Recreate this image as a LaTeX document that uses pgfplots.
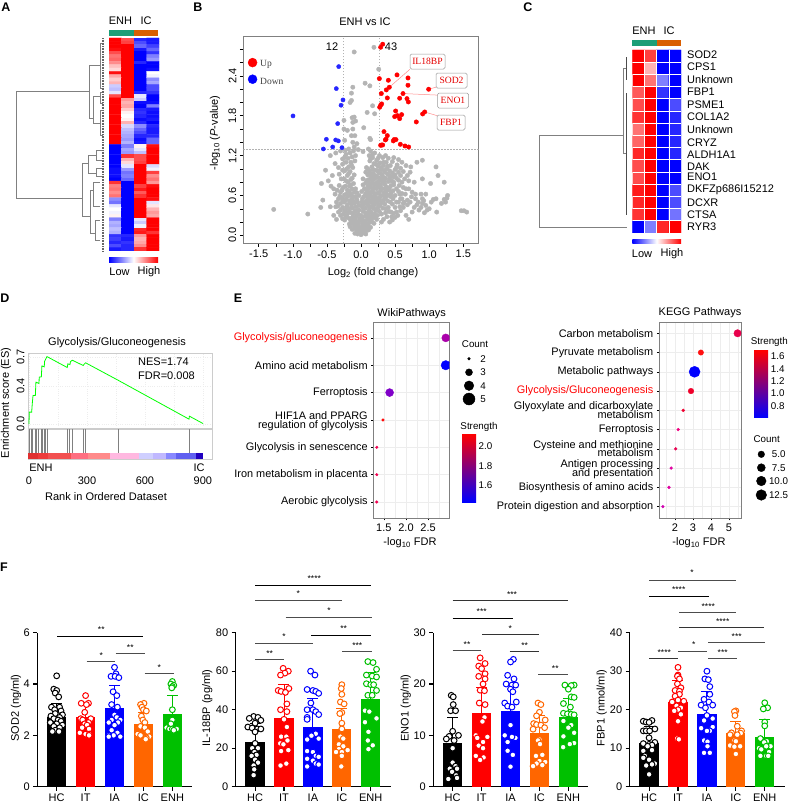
\documentclass[border=0pt]{standalone}
\usepackage{fontspec}
\setmainfont{Liberation Sans}
\newfontfamily\serifb{Liberation Serif}
\usepackage{pgfplots}
\usepackage{pgfplotstable}
\pgfplotsset{compat=1.18}
\newcommand{\fa}{\fontsize{11}{12}\selectfont}
\newcommand{\fb}{\fontsize{9.8}{11}\selectfont}
\newcommand{\tightA}{\fontsize{10.9}{9.4}\selectfont\setlength{\lineskiplimit}{-10pt}}
\newcommand{\tightB}{\fontsize{10.9}{8.5}\selectfont\setlength{\lineskiplimit}{-10pt}}
\newcommand{\nodepth}[1]{\raisebox{0pt}[\height][0pt]{#1}}
\definecolor{annG}{HTML}{1B9E77}
\definecolor{annO}{HTML}{D95F02}
\definecolor{ptgray}{HTML}{B4B4B4}
\definecolor{fgreen}{HTML}{00C000}
\definecolor{forange}{HTML}{FF6600}
\definecolor{gridc}{HTML}{EDEDED}
\definecolor{framec}{HTML}{808080}
\definecolor{lbox}{HTML}{999999}
\pgfplotsset{
  colormap={bwr}{rgb=(0,0,1) rgb=(1,1,1) rgb=(1,0,0)},
  every axis/.append style={scale only axis, /pgf/number format/assume math mode=true, tick label style={font=\fa}, label style={font=\fa}},
  heat/.style={hide axis, colormap name=bwr, point meta min=-1, point meta max=1, y dir=reverse, xmin=-0.5, xmax=3.5, enlargelimits=false},
  bubble/.style={axis line style={framec,line width=.8pt}, grid=both, grid style={gridc,line width=.6pt}, minor grid style={gridc,line width=.5pt}, tick align=outside, major tick length=2.5pt, minor tick length=0pt, tick style={black,line width=.4pt}, ytick pos=left, xtick pos=bottom, clip marker paths=true},
  barpanel/.style={axis x line=bottom, axis y line=left, axis line style={black,line width=1.1pt,-}, tick style={black,line width=1.1pt}, tick align=outside, major tick length=4pt, xmin=-.67, xmax=4.69, xtick={0,1,2,3,4}, xticklabels={HC,IT,IA,IC,ENH}, clip=false, scaled y ticks=false, width=155pt, height=154pt, ymin=0},
}
% one group of panel F: colour, position, bar, upper error, points as "offset value"
\newcommand{\grp}[5]{%
  \addplot[ybar,bar width=19.3pt,bar shift=0pt,fill=#1,draw=none] coordinates {(#2,#3)};
  \addplot[draw=none,mark=none,error bars/.cd,y dir=plus,y explicit,error bar style={#1,line width=.9pt},error mark options={#1,rotate=90,mark size=5.5pt,line width=.9pt}] coordinates {(#2,#3) +- (0,#4)};
  \addplot[only marks,mark=*,mark size=2.9pt,mark options={fill=white,draw=#1,line width=1pt}] table[row sep=crcr,header=false,x expr=\thisrowno{0}+#2,y index=1] {#5};
}
\newcommand{\brk}[7]{%
  \addplot[#4,line width=.9pt] coordinates {(#1,#3)(#2,#3)};
  \node[font=\fontsize{8.5}{8}\selectfont,inner sep=0pt] at (#5,#6+2) {#7};
}
\newcommand{\den}[1]{\addplot[gray,line width=.5pt] coordinates {#1};}
\begin{document}
\begin{tikzpicture}
\path[use as bounding box] (0,0) rectangle (789pt,804pt);

% A heatmap
\begin{axis}[heat, at={(109pt,553pt)}, width=50pt, height=213pt, ymin=-.5, ymax=63.5]
\addplot[matrix plot*, mesh/cols=4, point meta=explicit] coordinates {
(0,0)[1] (1,0)[.7] (2,0)[-.85] (3,0)[-.9]
(0,1)[1] (1,1)[.75] (2,1)[-.7] (3,1)[-.9]
(0,2)[1] (1,2)[1] (2,2)[-.6] (3,2)[-.75]
(0,3)[.95] (1,3)[1] (2,3)[-.9] (3,3)[-.6]
(0,4)[.7] (1,4)[1] (2,4)[-1] (3,4)[-.8]
(0,5)[.55] (1,5)[1] (2,5)[-1] (3,5)[-.5]
(0,6)[.6] (1,6)[1] (2,6)[-1] (3,6)[-.4]
(0,7)[.45] (1,7)[1] (2,7)[-.85] (3,7)[-1]
(0,8)[.25] (1,8)[1] (2,8)[-1] (3,8)[-1]
(0,9)[.15] (1,9)[1] (2,9)[-1] (3,9)[-.95]
(0,10)[.95] (1,10)[1] (2,10)[-1] (3,10)[0]
(0,11)[.35] (1,11)[1] (2,11)[-1] (3,11)[-.05]
(0,12)[.2] (1,12)[1] (2,12)[-1] (3,12)[-.45]
(0,13)[.3] (1,13)[1] (2,13)[-1] (3,13)[-.35]
(0,14)[-.2] (1,14)[1] (2,14)[-1] (3,14)[-.7]
(0,15)[-.25] (1,15)[1] (2,15)[-1] (3,15)[-.7]
(0,16)[-.1] (1,16)[1] (2,16)[-.85] (3,16)[-.8]
(0,17)[.7] (1,17)[1] (2,17)[-.1] (3,17)[-1]
(0,18)[1] (1,18)[.4] (2,18)[-.2] (3,18)[-1]
(0,19)[1] (1,19)[.3] (2,19)[-.95] (3,19)[-.95]
(0,20)[1] (1,20)[.35] (2,20)[-1] (3,20)[-.5]
(0,21)[1] (1,21)[.2] (2,21)[-.85] (3,21)[-.9]
(0,22)[1] (1,22)[.05] (2,22)[-.8] (3,22)[-.95]
(0,23)[1] (1,23)[0] (2,23)[-.85] (3,23)[-.95]
(0,24)[1] (1,24)[.05] (2,24)[-.95] (3,24)[-.9]
(0,25)[1] (1,25)[.3] (2,25)[-.85] (3,25)[-1]
(0,26)[1] (1,26)[-.15] (2,26)[-.45] (3,26)[-.85]
(0,27)[1] (1,27)[-.25] (2,27)[-.6] (3,27)[-.9]
(0,28)[1] (1,28)[-.3] (2,28)[-.7] (3,28)[-.9]
(0,29)[1] (1,29)[-.35] (2,29)[-.85] (3,29)[-.85]
(0,30)[1] (1,30)[-.4] (2,30)[-.95] (3,30)[-.6]
(0,31)[1] (1,31)[-.3] (2,31)[-.9] (3,31)[-.6]
(0,32)[-1] (1,32)[-.5] (2,32)[.05] (3,32)[.95]
(0,33)[-1] (1,33)[-.35] (2,33)[-.1] (3,33)[1]
(0,34)[-1] (1,34)[-.4] (2,34)[-.25] (3,34)[1]
(0,35)[-1] (1,35)[.8] (2,35)[.7] (3,35)[1]
(0,36)[-1] (1,36)[.3] (2,36)[.7] (3,36)[1]
(0,37)[-1] (1,37)[.15] (2,37)[.75] (3,37)[1]
(0,38)[-1] (1,38)[-.1] (2,38)[1] (3,38)[-.15]
(0,39)[-.95] (1,39)[-.4] (2,39)[1] (3,39)[-.05]
(0,40)[-.95] (1,40)[-.55] (2,40)[1] (3,40)[.75]
(0,41)[-.95] (1,41)[-.5] (2,41)[1] (3,41)[.45]
(0,42)[-1] (1,42)[-.6] (2,42)[1] (3,42)[.55]
(0,43)[.8] (1,43)[-1] (2,43)[1] (3,43)[.4]
(0,44)[.5] (1,44)[-1] (2,44)[.75] (3,44)[.95]
(0,45)[.55] (1,45)[-1] (2,45)[.9] (3,45)[1]
(0,46)[.45] (1,46)[-1] (2,46)[.65] (3,46)[1]
(0,47)[.55] (1,47)[-1] (2,47)[.8] (3,47)[1]
(0,48)[-.45] (1,48)[-1] (2,48)[1] (3,48)[.95]
(0,49)[-.55] (1,49)[-1] (2,49)[1] (3,49)[-.1]
(0,50)[-.1] (1,50)[-1] (2,50)[1] (3,50)[.1]
(0,51)[0] (1,51)[-1] (2,51)[1] (3,51)[.3]
(0,52)[-.05] (1,52)[-1] (2,52)[1] (3,52)[.4]
(0,53)[.05] (1,53)[-1] (2,53)[1] (3,53)[.35]
(0,54)[-.5] (1,54)[-1] (2,54)[-.1] (3,54)[1]
(0,55)[-.3] (1,55)[-1] (2,55)[-.2] (3,55)[1]
(0,56)[-.35] (1,56)[-1] (2,56)[-.05] (3,56)[1]
(0,57)[-.25] (1,57)[-1] (2,57)[.85] (3,57)[1]
(0,58)[-.3] (1,58)[-1] (2,58)[.9] (3,58)[.8]
(0,59)[-.8] (1,59)[-.85] (2,59)[.4] (3,59)[1]
(0,60)[-.75] (1,60)[-.9] (2,60)[.3] (3,60)[1]
(0,61)[-.85] (1,61)[-.8] (2,61)[.35] (3,61)[1]
(0,62)[-.7] (1,62)[-.85] (2,62)[.45] (3,62)[1]
(0,63)[-.9] (1,63)[-.85] (2,63)[.8] (3,63)[1]
};
\end{axis}

% C heatmap
\begin{axis}[heat, at={(632.3pt,571pt)}, width=48.7pt, height=183pt, ymin=-.5, ymax=14.5]
\addplot[matrix plot*, mesh/cols=4, point meta=explicit] coordinates {
(0,0)[1] (1,0)[.75] (2,0)[-1] (3,0)[-1]
(0,1)[1] (1,1)[.3] (2,1)[-1] (3,1)[-1]
(0,2)[1] (1,2)[.55] (2,2)[-.5] (3,2)[-1]
(0,3)[.65] (1,3)[1] (2,3)[-.8] (3,3)[-1]
(0,4)[.7] (1,4)[1] (2,4)[-1] (3,4)[-.7]
(0,5)[.8] (1,5)[1] (2,5)[-1] (3,5)[-.85]
(0,6)[.55] (1,6)[1] (2,6)[-1] (3,6)[-.85]
(0,7)[.6] (1,7)[1] (2,7)[-1] (3,7)[-.85]
(0,8)[.85] (1,8)[1] (2,8)[-1] (3,8)[-.85]
(0,9)[.7] (1,9)[1] (2,9)[-1] (3,9)[-1]
(0,10)[.7] (1,10)[1] (2,10)[-1] (3,10)[-1]
(0,11)[.9] (1,11)[1] (2,11)[-1] (3,11)[-.7]
(0,12)[.85] (1,12)[1] (2,12)[-1] (3,12)[-.7]
(0,13)[.8] (1,13)[1] (2,13)[-1] (3,13)[-.55]
(0,14)[-1] (1,14)[-.5] (2,14)[.85] (3,14)[1]
};
\addplot[white,line width=.6pt] coordinates {(.5,-.5)(.5,14.5)};
\addplot[white,line width=.6pt] coordinates {(1.5,-.5)(1.5,14.5)};
\addplot[white,line width=.6pt] coordinates {(2.5,-.5)(2.5,14.5)};
\addplot[white,line width=.6pt] table[row sep=crcr,header=false] {-.5 .5\\3.5 .5\\3.5 1.5\\-.5 1.5\\-.5 2.5\\3.5 2.5\\3.5 3.5\\-.5 3.5\\-.5 4.5\\3.5 4.5\\3.5 5.5\\-.5 5.5\\-.5 6.5\\3.5 6.5\\3.5 7.5\\-.5 7.5\\-.5 8.5\\3.5 8.5\\3.5 9.5\\-.5 9.5\\-.5 10.5\\3.5 10.5\\3.5 11.5\\-.5 11.5\\-.5 12.5\\3.5 12.5\\3.5 13.5\\-.5 13.5\\};
\end{axis}

% B volcano
\begin{axis}[at={(243.3pt,560.7pt)}, width=235.4pt, height=206.6pt,
  xmin=-1.726, xmax=1.726, ymin=-0.12, ymax=2.99,
  axis line style={framec,line width=.9pt}, tick style={black,line width=.5pt}, tick align=outside,
  major tick length=3.5pt, minor tick length=3.5pt,
  xtick={-1.5,-1,-.5,0,.5,1,1.5}, minor xtick={-1.25,-.75,-.25,.25,.75,1.25},
  ytick={0,.6,1.2,1.8,2.4}, minor ytick={.2,.4,.8,1,1.4,1.6,2,2.2,2.6,2.8},
  xtick pos=bottom, ytick pos=left,
  yticklabel style={rotate=90,anchor=south,/pgf/number format/fixed,/pgf/number format/fixed zerofill,/pgf/number format/precision=1},
  xticklabel style={/pgf/number format/fixed,/pgf/number format/fixed zerofill,/pgf/number format/precision=1},
]
\addplot[only marks,mark=*,mark size=2.2pt,ptgray,mark options={draw=none}] coordinates {
(-.05,.02)(0,.01)(.02,.03)(-.02,.05)(.04,.06)(-.06,.07)(.06,.04)(.01,.08)(-.03,.09)(.08,.09)(-.08,.1)(.03,.1)(0,.05)(-.01,.12)(.05,.13)
(-.1,.14)(.1,.15)(-.07,.16)(.07,.17)(-.12,.18)(.12,.19)(-.04,.17)(.02,.18)(.14,.21)(-.15,.22)(-.09,.23)(.09,.24)(.16,.25)(-.02,.25)(.04,.22)
(-.18,.26)(-.12,.28)(.12,.29)(.18,.28)(.06,.29)(-.06,.3)(0,.3)(.2,.32)(-.2,.33)(-.15,.34)(.15,.35)(.1,.33)(.03,.36)(-.09,.36)(-.03,.38)(.22,.37)
(-.23,.38)(-.18,.4)(-.12,.41)(.07,.41)(.13,.42)(.18,.41)(.25,.42)(-.27,.42)(-.07,.43)(.01,.44)(.11,.45)(.2,.46)(.28,.45)(-.2,.46)(-.14,.47)(.04,.47)(-.1,.48)(.16,.49)(.24,.5)(.3,.49)
(-.25,.5)(-.3,.48)(-.17,.52)(-.05,.5)(.08,.52)(.13,.53)(.19,.53)(.27,.54)(.33,.53)(-.22,.55)(-.13,.55)(.02,.55)(.1,.56)(.22,.57)(.36,.57)(-.28,.57)(-.19,.59)(-.08,.58)(.06,.6)(.15,.59)(.3,.6)(.4,.6)
(-.24,.61)(-.15,.62)(.12,.63)(.2,.63)(.26,.64)(.34,.64)(.44,.63)(-.3,.65)(-.1,.65)(.09,.66)(.17,.67)(.38,.68)(.47,.67)(-.2,.68)(-.13,.7)(.05,.7)(.23,.7)(.3,.71)(.42,.72)(.52,.7)
(-.26,.72)(-.17,.74)(.1,.74)(.14,.75)(.2,.76)(.27,.76)(.35,.77)(.48,.76)(.56,.75)(-.11,.78)(.07,.79)(.17,.79)(.24,.8)(.32,.81)(.4,.81)(.45,.82)(.6,.8)
(-.22,.82)(-.15,.84)(.12,.84)(.2,.85)(.28,.85)(.36,.86)(.52,.86)(.64,.85)(.03,.85)(.15,.88)(.23,.89)(.31,.9)(.42,.9)(.5,.91)(.58,.9)(.68,.9)(-.2,.9)
(-.1,.91)(.1,.91)(.18,.93)(.26,.94)(.35,.95)(.46,.94)(.55,.95)(.62,.96)(.72,.95)(-.16,.96)(-.24,.97)(.13,.97)(.22,.98)(.3,.99)(.38,1)(.5,.99)(.58,1.01)
(-.12,1.02)(-.18,1.03)(.08,1.02)(.16,1.03)(.25,1.04)(.33,1.05)(.43,1.05)(.53,1.06)(.66,1.05)(.19,1.08)(.28,1.09)(.37,1.1)(.6,1.1)(-.22,1.1)(-.15,1.1)(-.09,1.12)(.13,1.12)(.23,1.13)(.46,1.11)
(-.27,1.15)(-.19,1.16)(-.13,1.18)(.17,1.17)(.32,1.17)(.4,1.16)(.55,1.14)(-.08,1.2)(.12,1.2)(.27,1.2)(-.22,1.22)(-.16,1.24)(.2,1.24)(.03,1.26)(.14,1.27)(-.11,1.27)(-.3,1.27)(-.37,1.24)
(-.04,1.29)(.11,1.3)(-.18,1.3)(-.1,1.33)(-.06,1.38)(-.12,1.4)(-.24,1.43)(.14,1.44)(.13,1.46)(-.14,1.5)(-.09,1.5)(-.2,1.58)(-.25,1.6)(-.12,1.6)(.04,1.62)(-.25,1.73)(-.12,1.7)(-.08,1.72)(-.13,1.77)(-.1,1.78)(.09,1.85)(.2,1.83)(.17,1.95)(-.16,2)(-.14,2.03)(-.14,2.14)(-.12,2.23)(.13,2.25)(.06,2.29)(.26,2.5)(.19,2.83)(-.1,2.76)
(-.58,.78)(-.56,.53)(-.59,.42)(-.52,.98)(-.48,.82)(-.44,.74)(-.42,.9)(-.4,.7)(-.38,.62)(-.45,.43)(-.37,.43)(-.4,.3)(-.36,.24)(-.33,.55)(-.33,.35)(-.3,.3)(-.27,.25)(-.33,1.02)(-.45,1.2)(-.38,1.08)
(-1.28,.39)(-.78,.32)
(.6,.55)(.65,.62)(.7,.7)(.75,.65)(.78,.8)(.8,.55)(.73,1.03)(.82,1.1)(.9,1.13)(.9,.85)(1.02,.78)(.95,.62)(.72,.5)(.68,.46)(.62,.42)(.58,.37)(.54,.3)(.5,.27)(.46,.23)(.42,.2)(.38,.28)(.33,.24)(.3,.2)(.44,.35)(.5,.42)(.55,.5)(.66,.3)(.7,.24)
(.85,.38)(.88,.42)(.9,.48)(.92,.52)(.95,.45)(.97,.38)(.93,.34)(1,.4)(1.03,.5)(1.06,.54)(1.1,.55)(.88,.62)(1.1,1.03)(1.13,.9)(1.22,.8)(1.11,.35)(1.18,.48)(1.22,.54)(1.26,.56)(1.27,.6)(1.24,.5)(1.47,.37)(1.51,.37)(1.55,.35)
(.3,.32)(.24,.3)(.2,.27)(.16,.2)(.27,.36)(.32,.41)(-.26,.32)(-.22,.28)(-.24,.23)(.36,.34)(.4,.42)(.46,.47)(.52,.5)(.58,.55)(.63,.5)(.75,.35)(.78,.42)(.82,.46)
(-.16,.13)(-.13,.09)(.11,.08)(.14,.12)(-.09,.03)(.07,.02)(-.04,.14)(.03,.16)(.09,.12)(-.11,.19)(-.06,.21)(.06,.2)(.13,.26)(.19,.18)(-.17,.17)(-.01,.22)(.02,.27)(-.08,.27)(.1,.28)(-.14,.25)(.17,.31)(-.21,.29)(.23,.24)(-.04,.32)(.07,.34)(-.11,.33)(.12,.37)(-.17,.36)(.21,.39)(-.07,.37)(.03,.41)(-.24,.36)(.16,.43)(-.14,.42)(.09,.47)(-.21,.43)(-.03,.45)(.26,.46)(.06,.5)(-.11,.51)(.12,.51)(-.16,.49)(.01,.5)(.2,.5)(-.23,.52)(.17,.55)(-.06,.54)(.04,.58)(-.27,.53)(.24,.54)(-.13,.59)(.11,.6)(-.03,.6)(.28,.58)(.19,.58)(-.21,.62)(.07,.63)(.33,.6)(-.06,.64)(.15,.65)(.23,.63)(.01,.66)(-.17,.66)(.29,.67)(.37,.63)(-.28,.68)(.1,.69)(.19,.71)(-.08,.7)(.34,.7)(.25,.73)(-.23,.74)(.41,.68)(.14,.72)(-.15,.76)(.03,.76)(.29,.76)(.37,.73)(.44,.75)(.21,.78)(.12,.79)(-.19,.8)(.09,.83)(.34,.82)(.27,.82)(.48,.8)(.17,.84)(-.13,.86)(.42,.85)(-.25,.85)(.24,.87)(.33,.87)(.55,.83)(.2,.9)(.39,.92)(.13,.93)(-.18,.93)(.29,.93)(.47,.88)(.07,.95)(.25,.97)(.34,.98)(.42,.97)(.18,.99)(-.21,1)(.1,1)(.52,1.02)(.29,1.02)(.39,1.04)(.22,1.07)(-.14,1.06)(.33,1.1)(.14,1.15)(-.24,1.17)(.48,1.17)(.25,1.16)(.36,1.2)(.17,1.22)
(.45,.28)(.52,.35)(.48,.33)(.57,.43)(.62,.48)(.68,.53)(.74,.58)(.8,.62)(.84,.5)(.9,.55)(.6,.63)(.66,.7)(.55,.66)(.5,.6)(.47,.55)(.43,.5)(.41,.36)(.36,.4)(.35,.47)(.39,.52)(.44,.58)(.7,.82)(.62,.72)(.57,.62)
(-.3,.38)(-.34,.44)(-.36,.5)(-.31,.59)(-.35,.68)(-.32,.75)(-.29,.85)(-.32,.92)(-.27,.98)(-.27,1.07)(-.23,1.28)
};
\addplot[only marks,mark=*,mark size=2.2pt,red,mark options={draw=none}] coordinates {
(.318,2.877)(.288,2.831)(.269,2.359)(.528,2.415)(.401,2.334)(.689,2.369)(.415,2.229)(.371,2.189)(.689,2.259)(.298,2.134)(.616,2.134)(.992,2.199)(.386,2.068)(.567,2.063)(.674,2.058)(.694,2.008)(.303,1.978)(.288,1.958)(.274,1.928)(.508,1.872)(.596,1.817)(.533,1.802)(.494,1.787)(.567,1.757)(.934,1.857)(.904,1.827)(.811,1.707)(.337,1.561)(.386,1.501)(.367,1.446)(.357,1.436)(.484,1.441)(.513,1.441)(.474,1.421)(.577,1.37)(.645,1.345)(.699,1.33)(.303,1.36)(.288,1.355)(.318,1.36)
};
\addplot[only marks,mark=*,mark size=2.1pt,blue!85!white,mark options={draw=none}] coordinates {
(-.327,2.54)(-.362,2.209)(-.264,2.038)(-.293,1.958)(-.997,1.797)(-.342,1.682)(-.508,1.446)(-.371,1.436)(-.332,1.421)(-.415,1.33)(-.279,1.32)(-.552,1.3)
};
\addplot[only marks,mark=*,mark size=4.5pt,red,mark options={draw=none}] coordinates {(-1.59,2.6)};
\addplot[only marks,mark=*,mark size=4.5pt,blue,mark options={draw=none}] coordinates {(-1.59,2.35)};
\addplot[gray!60,line width=.45pt,dash pattern=on 1.5pt off 1.5pt] coordinates {(-.264,-.12)(-.264,2.99)};
\addplot[gray!60,line width=.45pt,dash pattern=on 1.5pt off 1.5pt] coordinates {(.269,-.12)(.269,2.99)};
\addplot[gray!60,line width=.45pt,dash pattern=on 1.5pt off 1.5pt] coordinates {(-1.726,1.3)(1.726,1.3)};
\addplot[red!45,line width=.5pt] coordinates {(.415,2.229)(.718,2.5)};
\addplot[red!45,line width=.5pt] coordinates {(.992,2.199)(1.1,2.23)};
\addplot[red!45,line width=.5pt] coordinates {(.616,2.134)(1.14,2.11)};
\addplot[red!45,line width=.5pt] coordinates {(.934,1.857)(1.12,1.8)};
\end{axis}

% D enrichment curve
\begin{axis}[at={(28pt,376pt)}, width=184pt, height=75pt, xmin=-5, xmax=947, ymin=-.04, ymax=.74,
  axis line style={gridc!70!gray,line width=.8pt}, grid=both, grid style={gridc,line width=.3pt,dotted},
  xtick={0,150,300,450,600,750,900}, xticklabels={}, ytick={0,.4,.7}, major tick length=0pt,
  yticklabel style={rotate=90,anchor=south,/pgf/number format/fixed,/pgf/number format/fixed zerofill,/pgf/number format/precision=1}]
\addplot[green,line width=.8pt] coordinates {
(0,0)(2,.125)(14,.125)(17,.211)(21,.298)(33,.298)(36,.437)(52,.423)(53,.489)(64,.492)(67,.606)(79,.596)(81,.655)(93,.703)(198,.589)(201,.627)(212,.62)(215,.651)(224,.665)(281,.61)(284,.62)(293,.638)(461,.457)(828,.052)(830,.083)(900,.007)
};
\end{axis}
\begin{axis}[at={(28pt,345pt)}, width=184pt, height=30pt, xmin=-5, xmax=947, ymin=0, ymax=1,
  axis line style={gridc!70!gray,line width=.8pt}, major tick length=0pt, ytick=\empty, xtick={0,300,600,900},
  xticklabel style={yshift=-14pt}]
\addplot[ycomb,no marks,gray,line width=.7pt] coordinates {(0,1)(10,1)(19,1)(31,1)(36,1)(48,1)(64,1)(69,1)(79,1)(86,1)(93,1)(198,1)(208,1)(224,1)(281,1)(293,1)(461,1)(828,1)};
\addplot[fill=white,draw=none] coordinates {(-5,0)(947,0)(947,.2)(-5,.2)} --cycle;
\addplot[fill={rgb,255:red,224;green,48;blue,48},draw=none] coordinates {(-3,0)(48,0)(48,.2)(-3,.2)} --cycle;
\addplot[fill={rgb,255:red,238;green,59;blue,59},draw=none] coordinates {(48,0)(100,0)(100,.2)(48,.2)} --cycle;
\addplot[fill={rgb,255:red,242;green,80;blue,80},draw=none] coordinates {(100,0)(220,0)(220,.2)(100,.2)} --cycle;
\addplot[fill={rgb,255:red,255;green,110;blue,128},draw=none] coordinates {(220,0)(306,0)(306,.2)(220,.2)} --cycle;
\addplot[fill={rgb,255:red,255;green,138;blue,138},draw=none] coordinates {(306,0)(421,0)(421,.2)(306,.2)} --cycle;
\addplot[fill={rgb,255:red,255;green,184;blue,224},draw=none] coordinates {(421,0)(570,0)(570,.2)(421,.2)} --cycle;
\addplot[fill={rgb,255:red,207;green,207;blue,255},draw=none] coordinates {(570,0)(640,0)(640,.2)(570,.2)} --cycle;
\addplot[fill={rgb,255:red,192;green,184;blue,255},draw=none] coordinates {(640,0)(710,0)(710,.2)(640,.2)} --cycle;
\addplot[fill={rgb,255:red,136;green,136;blue,255},draw=none] coordinates {(710,0)(760,0)(760,.2)(710,.2)} --cycle;
\addplot[fill={rgb,255:red,96;green,96;blue,240},draw=none] coordinates {(760,0)(862,0)(862,.2)(760,.2)} --cycle;
\addplot[fill={rgb,255:red,32;green,0;blue,192},draw=none] coordinates {(862,0)(900,0)(900,.2)(862,.2)} --cycle;
\end{axis}

% E WikiPathways
\begin{axis}[bubble, at={(373.7pt,286pt)}, width=75.6pt, height=195.7pt, xmin=1.27, xmax=2.98, ymin=.415, ymax=7.57,
  yticklabel style={align=right,font=\tightA},
  xtick={1.5,2,2.5}, minor xtick={1.25,1.75,2.25,2.75}, ytick={1,2,3,4,5,6,7},
  xticklabel style={/pgf/number format/fixed,/pgf/number format/fixed zerofill,/pgf/number format/precision=1},
  yticklabels={Aerobic glycolysis,Iron metabolism in placenta,Glycolysis in senescence,{HIF1A and PPARG\\\nodepth{regulation of glycolysis}},Ferroptosis,Amino acid metabolism,{\textcolor{red}{Glycolysis/gluconeogenesis}}}]
\addplot[only marks,mark=*,mark size=4pt,color={rgb,255:red,170;green,0;blue,170}] coordinates {(2.9,7)};
\addplot[only marks,mark=*,mark size=4.7pt,blue] coordinates {(2.9,6)};
\addplot[only marks,mark=*,mark size=4pt,color={rgb,255:red,128;green,0;blue,200}] coordinates {(1.63,5)};
\addplot[only marks,mark=*,mark size=1.3pt,red] coordinates {(1.48,4)};
\addplot[only marks,mark=*,mark size=1.3pt,color={rgb,255:red,240;green,0;blue,80}] coordinates {(1.34,3)(1.34,2)(1.34,1)};
\end{axis}

% E KEGG
\begin{axis}[bubble, at={(659.3pt,286pt)}, width=81.7pt, height=195.7pt, xmin=1.13, xmax=5.67, ymin=.41, ymax=10.57,
  yticklabel style={align=right,font=\tightB},
  xtick={2,3,4,5}, minor xtick={1.5,2.5,3.5,4.5,5.5}, ytick={1,2,3,4,5,6,7,8,9,10},
  yticklabels={Protein digestion and absorption,Biosynthesis of amino acids,{Antigen processing\\\nodepth{and presentation}},{Cysteine and methionine\\metabolism},Ferroptosis,{Glyoxylate and dicarboxylate\\metabolism},{\textcolor{red}{Glycolysis/Gluconeogenesis}},Metabolic pathways,Pyruvate metabolism,Carbon metabolism}]
\addplot[only marks,mark=*,mark size=3.7pt,color={rgb,255:red,232;green,0;blue,76}] coordinates {(5.48,10)};
\addplot[only marks,mark=*,mark size=2.7pt,color={rgb,255:red,255;green,16;blue,16}] coordinates {(3.44,9)};
\addplot[only marks,mark=*,mark size=5.5pt,blue] coordinates {(3.09,8)};
\addplot[only marks,mark=*,mark size=2.8pt,color={rgb,255:red,240;green,0;blue,42}] coordinates {(2.89,7)};
\addplot[only marks,mark=*,mark size=1.5pt,color={rgb,255:red,240;green,0;blue,48}] coordinates {(2.46,6)};
\addplot[only marks,mark=*,mark size=1.4pt,color={rgb,255:red,240;green,0;blue,128}] coordinates {(2.18,5)};
\addplot[only marks,mark=*,mark size=1.4pt,color={rgb,255:red,232;green,0;blue,80}] coordinates {(2.04,4)};
\addplot[only marks,mark=*,mark size=1.4pt,color={rgb,255:red,224;green,0;blue,160}] coordinates {(1.79,3)(1.67,2)};
\addplot[only marks,mark=*,mark size=1.4pt,color={rgb,255:red,208;green,0;blue,176}] coordinates {(1.33,1)};
\end{axis}

% F SOD2
\begin{axis}[barpanel, at={(37.3pt,17.3pt)}, ymax=6, ytick={0,2,4,6}]
\grp{black}{0}{2.7}{.55}{0 4.32\\-.1 3.8\\0 3.75\\-.05 3.65\\.07 3.5\\-.18 3.1\\.1 3.1\\-.07 3\\.15 2.95\\-.05 2.85\\.2 2.8\\-.2 2.75\\.1 2.7\\-.1 2.65\\.05 2.6\\.15 2.55\\-.22 2.5\\0 2.45\\.2 2.4\\-.1 2.35\\.1 2.3\\-.05 2.2\\-.15 2.15\\.08 2.15\\}
\grp{red}{1}{2.72}{.5}{0 3.55\\-.15 3.25\\.1 3.25\\.03 3.2\\-.03 2.9\\.18 2.65\\-.17 2.65\\-.1 2.6\\.1 2.5\\-.03 2.45\\.05 2.4\\-.12 2.3\\.12 2.25\\-.2 2.1\\0 2.05\\.13 2.05\\.12 2\\}
\grp{blue}{2}{3.06}{.87}{0 4.65\\.05 4.4\\-.12 4.3\\.02 4.3\\.15 4.25\\-.05 3.7\\.08 3.55\\-.1 3.2\\.1 3.1\\0 2.8\\.08 2.7\\-.1 2.6\\.2 2.6\\.12 2.5\\-.2 2.5\\0 2.4\\-.1 2.2\\.1 2.1\\-.2 2\\-.03 2\\.2 1.95\\-.2 1.95\\}
\grp{forange}{3}{2.44}{.45}{.02 3.25\\-.1 3.2\\-.05 3.1\\0 3\\.1 2.95\\-.07 2.75\\-.02 2.6\\.05 2.5\\-.1 2.35\\.05 2.3\\.15 2.15\\-.2 2.05\\-.1 2\\.2 1.95\\.1 1.9\\.08 1.85\\}
\grp{fgreen}{4}{2.83}{.74}{0 4.1\\-.05 4\\.05 3.95\\0 3.9\\-.02 3.85\\0 3\\0 2.6\\-.05 2.45\\-.2 2.3\\.15 2.25\\-.1 2.25\\0 2.25\\.05 2.2\\}
\end{axis}

% F IL-18BP
\begin{axis}[barpanel, at={(235.7pt,17.3pt)}, ymax=80, ytick={0,20,40,60,80}]
\grp{black}{0}{23}{10}{-.05 36.5\\.1 36\\-.2 35.5\\.2 34.5\\0 33\\-.25 31\\-.1 30.5\\.08 30\\.2 30\\0 28.5\\0 22.5\\-.1 20\\.1 20\\-.02 18\\.05 16.5\\-.12 16\\0 14\\.1 12.5\\-.05 11\\-.03 9\\-.05 6\\}
\grp{red}{1}{35.7}{17.3}{-.03 61.5\\.15 60\\.03 59\\-.12 58\\.17 51\\-.2 50\\-.1 49.5\\.05 49\\.1 43\\-.12 40\\.1 39\\0 35\\.1 31\\-.1 26\\.08 26\\.12 24\\-.13 22.5\\-.02 22\\.15 19\\-.1 18.5\\.08 12\\-.12 11\\}
\grp{blue}{2}{30.8}{15.2}{-.08 60\\.07 58\\-.2 50.5\\0 50\\.1 49.5\\.2 48.5\\-.07 43.5\\-.2 40\\0 40\\.1 39\\.2 37.5\\-.2 36\\-.2 35\\.1 27.5\\-.05 26.5\\.2 25\\-.2 24.5\\-.2 18.5\\0 18\\.1 16\\.2 15.5\\-.2 14.5\\0 13.5\\.1 12\\.2 11.5\\-.2 10.5\\}
\grp{forange}{3}{29.8}{11}{0 53\\-.02 51\\0 48\\-.05 44\\.08 43\\0 38.5\\-.07 38\\0 33\\0 30\\-.05 26\\.05 25\\-.1 22\\.05 21\\-.1 19.5\\.2 19\\-.2 18\\0 18\\0 16\\-.02 10.5\\}
\grp{fgreen}{4}{45.5}{14}{-.1 65\\.08 64.5\\.2 61\\-.15 58\\.05 57.5\\.2 57\\-.15 53.5\\0 53\\.1 53\\.2 50\\-.1 47.5\\.05 47.5\\-.2 39.5\\-.05 39\\.2 35.5\\-.2 33.5\\-.08 28.5\\-.1 24\\.07 21.5\\-.08 19.5\\}
\end{axis}

% F ENO1
\begin{axis}[barpanel, at={(433.3pt,17.3pt)}, ymax=30, ytick={0,10,20,30}]
\grp{black}{0}{8.6}{4.8}{-.05 17.8\\.02 17.5\\.02 16\\-.07 14.8\\.1 14.8\\0 10.8\\.2 10\\-.12 9.8\\-.22 9.3\\.05 9\\0 7.5\\0 4.7\\.1 4\\-.1 3.5\\.15 3.5\\-.02 2.9\\.12 2.2\\-.15 1.7\\.15 1.7\\-.15 1.5\\}
\grp{red}{1}{14.4}{5}{-.05 25.1\\.12 24\\-.1 23.5\\0 23\\.12 22\\-.1 21.5\\.12 21\\.05 20\\-.05 18.8\\.1 18.7\\-.08 16.3\\.12 16\\.1 13.5\\.03 12.7\\-.2 10\\.2 9.7\\-.15 9.5\\.05 8.7\\-.1 8\\.05 7.5\\-.2 6\\.07 5.7\\-.05 5.2\\}
\grp{blue}{2}{14.7}{5.3}{.1 24.8\\0 24.3\\-.1 21.7\\.12 21\\-.15 20\\.05 19.8\\.18 19.8\\0 19\\.08 18.5\\.2 16.5\\-.2 16.3\\-.1 15.7\\.05 15.5\\0 12\\-.2 10\\.17 9.5\\.05 9.7\\-.1 8.7\\-.1 7\\.07 6.3\\.08 6.2\\0 3.9\\}
\grp{forange}{3}{10.5}{3.3}{-.05 16.3\\.05 16\\0 14.5\\-.1 13.8\\.2 13\\-.2 12.3\\-.1 12.1\\.05 12\\.18 11.5\\-.22 11.2\\0 9.2\\-.05 9\\.02 8.3\\.1 6.2\\-.12 6\\0 5\\.2 4.8\\-.1 4.5\\-.22 4\\.1 4.2\\}
\grp{fgreen}{4}{13.6}{3.5}{-.12 19.8\\.2 19.8\\.1 19.7\\0 19\\.1 17.5\\.2 17.4\\-.17 16.2\\.07 15.5\\-.17 14.3\\-.03 14.2\\.1 14.1\\.2 14\\-.17 12.8\\.1 12\\0 11.5\\.2 10.5\\-.17 9.8\\.2 8.5\\.05 8.3\\-.18 7.7\\}
\end{axis}

% F FBP1
\begin{axis}[barpanel, at={(629.7pt,17.3pt)}, ymax=40, ytick={0,10,20,30,40}]
\grp{black}{0}{11.4}{4.2}{.1 17.2\\-.2 17\\-.1 16.8\\0 16.7\\.2 15\\-.2 14.5\\-.1 14.5\\.02 14.5\\0 12.7\\.2 11.5\\-.2 11.2\\0 11\\.1 10.8\\-.05 10.5\\.1 9.5\\-.2 9.3\\-.15 8\\-.2 7.5\\0 7\\.2 6\\.1 5.8\\-.1 5.5\\0 3.2\\}
\grp{red}{1}{22}{5.5}{0 31\\0 29\\-.02 28.7\\.05 28\\-.02 26.7\\.1 25.7\\-.1 25\\.05 24.8\\.05 24\\-.1 23.5\\0 22.5\\.2 22.2\\-.2 22\\-.05 21\\.1 20.5\\0 20\\-.13 19.7\\.1 18.8\\0 17\\-.03 12.5\\.03 12.3\\}
\grp{blue}{2}{18.9}{5.8}{0 30\\-.07 28\\.05 27.8\\.1 26\\.1 24\\-.1 22.7\\.07 22\\.2 21.2\\-.2 21.2\\-.05 20.5\\0 18.5\\.2 17.7\\-.1 17.2\\.2 15.5\\-.2 15.2\\.1 14.5\\0 14.5\\-.1 12\\.02 11.7\\.02 10.5\\-.1 8.8\\.1 8.8\\}
\grp{forange}{3}{13.9}{3}{0 19.7\\-.05 19.5\\-.03 18.5\\.05 15.7\\.2 14.5\\-.15 14\\.17 13.9\\-.2 13.5\\.05 13.5\\-.05 12\\0 11.8\\-.2 10.7\\.15 10.5\\-.05 10.4\\0 8.5\\}
\grp{fgreen}{4}{12.8}{4.7}{0 21.8\\.1 20.5\\-.05 20.2\\0 16.8\\0 15.8\\-.15 12.5\\.07 11.8\\-.02 11.5\\.2 10.5\\.05 10.5\\-.2 10\\-.12 9.7\\.15 9\\-.15 8\\.05 8\\.12 8\\}
\end{axis}

% overlay in picture pixels: annotations, dendrograms, legends, significance bars
\begin{axis}[hide axis, at={(0pt,0pt)}, width=789pt, height=804pt, xmin=0, xmax=789, ymin=0, ymax=804, y dir=reverse, clip=false]
\node[font=\bfseries\fontsize{12.5}{12}\selectfont] at (6,7) {A};
\node[font=\bfseries\fontsize{12.5}{12}\selectfont] at (198,7) {B};
\node[font=\bfseries\fontsize{12.5}{12}\selectfont] at (528,7) {C};
\node[font=\bfseries\fontsize{12.5}{12}\selectfont] at (5,298) {D};
\node[font=\bfseries\fontsize{12.5}{12}\selectfont] at (238,298) {E};
\node[font=\bfseries\fontsize{12.5}{12}\selectfont] at (4,567) {F};

% A annotations
\addplot[fill=annG,draw=none] coordinates {(109,30)(133.5,30)(133.5,35.5)(109,35.5)} --cycle;
\addplot[fill=annO,draw=none] coordinates {(133.5,30)(158,30)(158,35.5)(133.5,35.5)} --cycle;
\node[font=\fa] at (120.5,21) {ENH};
\node[font=\fa] at (146,21) {IC};
\shade[left color=blue,right color=red,middle color=white] (109,257) rectangle (158,262);
\node[font=\fa] at (119.5,272) {Low};
\node[font=\fa] at (149,272) {High};
\den{(89.7,91)(16.7,91)(16.7,198)(82.3,198)}
\den{(100,65)(89.7,65)(89.7,118.3)(93.3,118.3)}
\den{(93.3,96.7)(93.3,123.3)(100,123.3)}
\den{(93.3,96.7)(100,96.7)}
\den{(103,43)(100,43)(100,88)(103,88)}
\den{(103,92)(100,92)(100,103)(103,103)}
\den{(103,110)(100,110)(100,135)(103,135)}
\den{(96.7,155)(88.3,155)(88.3,173.3)(96.7,173.3)}
\den{(88.3,163.3)(82.3,163.3)(82.3,216.7)(90,216.7)}
\den{(101.7,150)(96.7,150)(96.7,160)(101.7,160)}
\den{(101.7,168.3)(96.7,168.3)(96.7,176.7)(101.7,176.7)}
\den{(93.3,190)(90,190)(90,233.3)(95,233.3)}
\den{(100,182)(93.3,182)(93.3,206.7)(100,206.7)}
\den{(100,220)(95,220)(95,240)(100,240)}
\addplot[black!60,line width=2pt,dash pattern=on .7pt off .9pt] coordinates {(103,38)(103,251)};

% B annotations
\node[font=\fa] at (365,22) {ENH vs IC};
\node[font=\fa] at (332,47) {12};
\node[font=\fa] at (391,47) {43};
\node[font=\serifb\fontsize{9.5}{10}\selectfont,black!75,anchor=west,inner sep=0pt] at (260,64) {Up};
\node[font=\serifb\fontsize{9.5}{10}\selectfont,black!75,anchor=west,inner sep=0pt] at (260,81) {Down};
\node[font=\fa] at (373,273) {Log\textsubscript{2} (fold change)};
\node[font=\fa,rotate=90] at (215,133) {-log\textsubscript{10} (\textit{P}-value)};
\node[font=\serifb\fontsize{9.6}{10}\selectfont,text=red!90!black,draw=lbox,rounded corners=1.5pt,fill=white,line width=.5pt,minimum width=35pt,minimum height=15pt,inner sep=0pt] at (427.5,61.5) {IL18BP};
\node[font=\serifb\fontsize{9.6}{10}\selectfont,text=red!90!black,draw=lbox,rounded corners=1.5pt,fill=white,line width=.5pt,minimum width=31pt,minimum height=15pt,inner sep=0pt] at (451.5,80.5) {SOD2};
\node[font=\serifb\fontsize{9.6}{10}\selectfont,text=red!90!black,draw=lbox,rounded corners=1.5pt,fill=white,line width=.5pt,minimum width=31pt,minimum height=15pt,inner sep=0pt] at (453,100.5) {ENO1};
\node[font=\serifb\fontsize{9.6}{10}\selectfont,text=red!90!black,draw=lbox,rounded corners=1.5pt,fill=white,line width=.5pt,minimum width=28pt,minimum height=15pt,inner sep=0pt] at (451,122.5) {FBP1};

% C annotations
\addplot[fill=annG,draw=none] coordinates {(632.3,40)(656.7,40)(656.7,45.5)(632.3,45.5)} --cycle;
\addplot[fill=annO,draw=none] coordinates {(656.7,40)(681,40)(681,45.5)(656.7,45.5)} --cycle;
\node[font=\fa] at (644,31) {ENH};
\node[font=\fa] at (669,31) {IC};
\shade[left color=blue,right color=red,middle color=white] (632.3,239) rectangle (681,243.5);
\node[font=\fa] at (642,254) {Low};
\node[font=\fa] at (672,254) {High};
\den{(623.3,135.7)(539.3,135.7)(539.3,227.7)(626.7,227.7)}
\den{(626,68)(623.3,68)(623.3,153)(626,153)}
\addplot[gray!60!black,line width=.4pt] coordinates {(626,57)(626,80)};
\addplot[gray!60!black,line width=.4pt] coordinates {(626.3,93)(626.3,215)};
\addplot[gray,line width=.8pt] coordinates {(539.3,227.7)(626.7,227.7)};
\foreach \yy/\tt in {54.7/SOD2,67/CPS1,79.7/Unknown,92/FBP1,104.7/PSME1,117/COL1A2,129.7/Unknown,142.3/CRYZ,154.7/ALDH1A1,166.7/DAK,176.7/ENO1,190/DKFZp686I15212,202.3/DCXR,214.7/CTSA,227/RYR3}{
  \edef\temp{\noexpand\node[font=\noexpand\fa,anchor=west,inner sep=0pt] at (687,\yy) {\tt};}\temp
}

% D annotations
\node[font=\fa] at (117,343) {Glycolysis/Gluconeogenesis};
\node[font=\fa,anchor=west,inner sep=0pt] at (138,362) {NES=1.74};
\node[font=\fa,anchor=west,inner sep=0pt] at (138,376) {FDR=0.008};
\node[font=\fa] at (41,468) {ENH};
\node[font=\fa] at (199,468) {IC};
\node[font=\fa] at (106,497) {Rank in Ordered Dataset};
\node[font=\fa,rotate=90] at (6,403) {Enrichment score (ES)};

% E annotations
\node[font=\fa] at (411.7,313.3) {WikiPathways};
\node[font=\fa] at (700,312.3) {KEGG Pathways};
\node[font=\fa] at (410,543) {-log\textsubscript{10} FDR};
\node[font=\fa] at (699,543) {-log\textsubscript{10} FDR};
\node[font=\fb] at (475,344) {Count};
\addplot[only marks,mark=*,mark size=1.3pt,black] coordinates {(469,358.7)};
\addplot[only marks,mark=*,mark size=3.5pt,black] coordinates {(469,372.3)};
\addplot[only marks,mark=*,mark size=4.8pt,black] coordinates {(469,385.7)};
\addplot[only marks,mark=*,mark size=6pt,black] coordinates {(469,399)};
\node[font=\fb] at (483,358.7) {2};
\node[font=\fb] at (483,372.3) {3};
\node[font=\fb] at (483,385.7) {4};
\node[font=\fb] at (483,399) {5};
\node[font=\fb] at (479,427) {Strength};
\shade[bottom color=blue,top color=red] (462,434) rectangle (476,502);
\node[font=\fb] at (485.5,446) {2.0};
\node[font=\fb] at (485.5,466) {1.8};
\node[font=\fb] at (485.5,485) {1.6};
\node[font=\fb] at (769.3,342) {Strength};
\shade[bottom color=blue,top color=red] (754,350.7) rectangle (768,417.7);
\node[font=\fb] at (777.7,356.3) {1.6};
\node[font=\fb] at (777.7,368.7) {1.4};
\node[font=\fb] at (777.7,381) {1.2};
\node[font=\fb] at (777.7,393.3) {1.0};
\node[font=\fb] at (777.7,406) {0.8};
\node[font=\fb] at (766.7,439) {Count};
\addplot[only marks,mark=*,mark size=3.3pt,black] coordinates {(761.3,454.3)};
\addplot[only marks,mark=*,mark size=4pt,black] coordinates {(761.3,467.7)};
\addplot[only marks,mark=*,mark size=4.8pt,black] coordinates {(761.3,481)};
\addplot[only marks,mark=*,mark size=5.3pt,black] coordinates {(761.3,495)};
\node[font=\fb,anchor=west,inner sep=0pt] at (771.7,454.3) {5.0};
\node[font=\fb,anchor=west,inner sep=0pt] at (771.7,467.7) {7.5};
\node[font=\fb,anchor=west,inner sep=0pt] at (768.8,481) {10.0};
\node[font=\fb,anchor=west,inner sep=0pt] at (768.8,495) {12.5};

% F y labels
\node[font=\fa,rotate=90] at (16,708) {SOD2 (ng/ml)};
\node[font=\fa,rotate=90] at (207.3,708) {IL-18BP (pg/ml)};
\node[font=\fa,rotate=90] at (405.7,708) {ENO1 (ng/ml)};
\node[font=\fa,rotate=90] at (601.7,708) {FBP1 (nmol/ml)};

% F significance bars
\brk{57.3}{143.3}{636.3}{black}{101.3}{627.7}{**}
\brk{86.7}{115.3}{661.7}{black!70}{101.3}{653.7}{*}
\brk{115.7}{145}{653.7}{black!70}{130.3}{645.7}{**}
\brk{144.7}{174}{673.7}{black!70}{159.3}{665.3}{*}
\brk{255}{371}{585.3}{black}{314.3}{576.7}{****}
\brk{255}{342}{600.7}{black!70}{298.3}{592}{*}
\brk{285.7}{372.3}{617.7}{black!70}{329}{609}{*}
\brk{311}{371}{635.3}{black}{343.7}{627}{**}
\brk{255}{312.7}{643.7}{black!70}{284}{635}{*}
\brk{342}{372}{651.7}{black!70}{357.3}{643.7}{***}
\brk{255}{284}{659.7}{black!70}{269.7}{651.7}{**}
\brk{452.7}{568}{600.7}{black!80}{512}{592.3}{***}
\brk{452.7}{512.7}{618.3}{black}{481.7}{610}{***}
\brk{482}{539.3}{634.7}{black!80}{510.3}{626.7}{*}
\brk{509.7}{538.7}{651.3}{black!80}{524.7}{643.7}{**}
\brk{452.7}{481.3}{650.7}{black!70}{467}{642.7}{**}
\brk{538.3}{567.7}{674.7}{black!70}{555.3}{666.7}{**}
\brk{649}{736}{580}{black!70}{692}{570.7}{*}
\brk{649}{709}{596.3}{black}{678.7}{588}{****}
\brk{679}{736}{612.7}{black!70}{708.3}{604.7}{****}
\brk{679}{764}{627.7}{black!80}{722.7}{619.7}{****}
\brk{708.3}{765}{642.7}{black!70}{736.7}{634.7}{***}
\brk{678}{706.7}{651}{black!70}{693.7}{642.7}{*}
\brk{649}{677.7}{658.7}{black!80}{664.3}{650.7}{****}
\brk{708.3}{736.7}{658.3}{black!70}{722.7}{650.3}{***}
\end{axis}
\end{tikzpicture}
\end{document}
